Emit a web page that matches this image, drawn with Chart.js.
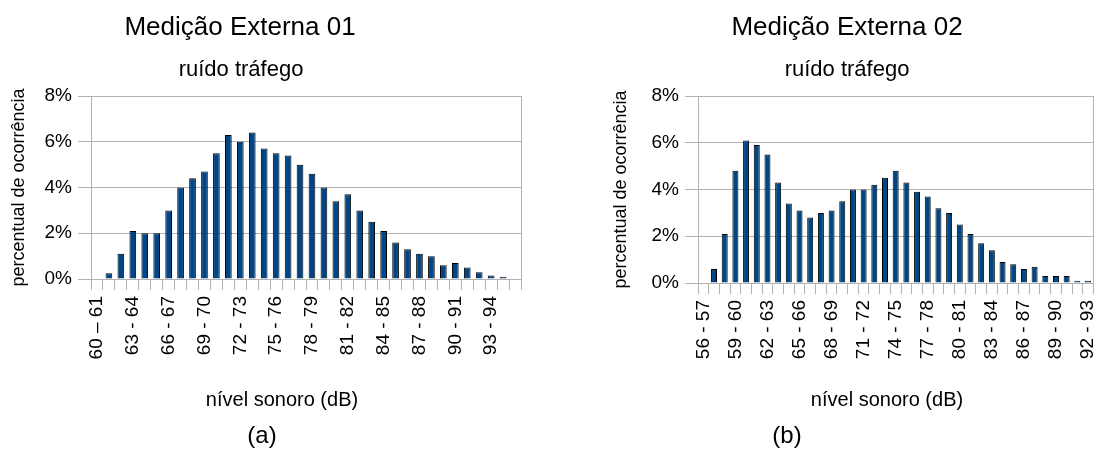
<!DOCTYPE html>
<html>
<head>
<meta charset="utf-8">
<script src="https://cdn.jsdelivr.net/npm/chart.js@4.4.0/dist/chart.umd.min.js"></script>
<style>
  body { margin: 0; background: #fff; }
  #wrap { position: relative; width: 1117px; height: 449px; }
  #c1 { position: absolute; left: 0; top: 0; }
  #c2 { position: absolute; left: 558px; top: 0; }
</style>
</head>
<body>
<div id="wrap">
  <canvas id="c1" width="558" height="449"></canvas>
  <canvas id="c2" width="559" height="449"></canvas>
</div>
<script>
// medição 01 - categorias e percentuais
const cats1 = ['60 – 61', '61 - 62', '62 - 63', '63 - 64', '64 - 65', '65 - 66', '66 - 67', '67 - 68', '68 - 69',
  '69 - 70', '70 - 71', '71 - 72', '72 - 73', '73 - 74', '74 - 75', '75 - 76', '76 - 77', '77 - 78',
  '78 - 79', '79 - 80', '80 - 81', '81 - 82', '82 - 83', '83 - 84', '84 - 85', '85 - 86', '86 - 87',
  '87 - 88', '88 - 89', '89 - 90', '90 - 91', '91 - 92', '92 - 93', '93 - 94', '94 - 95', '95 - 96'];
const vals1 = [0, 0.25, 1.1, 2.1, 2.0, 2.0, 3.0, 4.0, 4.4, 4.7, 5.5, 6.3, 6.0, 6.4, 5.7, 5.5, 5.4, 5.0,
  4.6, 4.0, 3.4, 3.7, 3.0, 2.5, 2.1, 1.6, 1.3, 1.1, 1.0, 0.6, 0.7, 0.5, 0.3, 0.15, 0.1, 0];

// medição 02
const cats2 = ['56 - 57', '57 - 58', '58 - 59', '59 - 60', '60 - 61', '61 - 62', '62 - 63', '63 - 64', '64 - 65',
  '65 - 66', '66 - 67', '67 - 68', '68 - 69', '69 - 70', '70 - 71', '71 - 72', '72 - 73', '73 - 74',
  '74 - 75', '75 - 76', '76 - 77', '77 - 78', '78 - 79', '79 - 80', '80 - 81', '81 - 82', '82 - 83',
  '83 - 84', '84 - 85', '85 - 86', '86 - 87', '87 - 88', '88 - 89', '89 - 90', '90 - 91', '91 - 92', '92 - 93'];
const vals2 = [0, 0.6, 2.1, 4.8, 6.1, 5.9, 5.5, 4.3, 3.4, 3.1, 2.8, 3.0, 3.1, 3.5, 4.0, 4.0, 4.2, 4.5,
  4.8, 4.3, 3.9, 3.7, 3.2, 3.0, 2.5, 2.1, 1.7, 1.4, 0.9, 0.8, 0.6, 0.7, 0.3, 0.3, 0.3, 0.1, 0.1];

const yTicks = [0, 2, 4, 6, 8];

const FONT = 'Liberation Sans';
const GRID = '#b3b3b3';

// desenha titulos / legenda de eixo x / (a) (b)
const textPlugin = {
  id: 'texts',
  afterDraw(chart, args, opts) {
    const ctx = chart.ctx;
    ctx.save();
    ctx.fillStyle = '#000';
    ctx.textAlign = 'center';
    ctx.textBaseline = 'alphabetic';
    opts.items.forEach(t => {
      ctx.font = t.size + 'px "' + FONT + '"';
      ctx.fillText(t.text, t.x, t.y);
    });
    ctx.restore();
  }
};

function makeChart(id, cats, vals, pad, texts, titlePad) {
  return new Chart(document.getElementById(id), {
    type: 'bar',
    data: {
      labels: cats,
      datasets: [{
        data: vals,
        backgroundColor: '#004586',
        borderColor: '#000',
        borderWidth: 1,
        borderSkipped: 'bottom',
        barPercentage: 0.56,
        categoryPercentage: 1.0
      }]
    },
    options: {
      responsive: false,
      animation: false,
      devicePixelRatio: 1,
      layout: { padding: pad },
      plugins: {
        legend: { display: false },
        tooltip: { enabled: false },
        title: { display: false },
        texts: { items: texts }
      },
      scales: {
        x: {
          afterFit: s => { s.height = 100; },
          grid: {
            offset: true,
            color: c => (c.type !== 'tick' || c.index === 0) ? GRID : 'rgba(0,0,0,0)',
            tickColor: GRID,
            tickLength: 11,
            lineWidth: 1
          },
          border: { display: false },
          ticks: {
            autoSkip: false,
            minRotation: 90,
            maxRotation: 90,
            padding: 6,
            color: '#000',
            font: { family: FONT, size: 19 },
            callback: (v, i) => i % 3 === 0 ? cats[i] : ''
          }
        },
        y: {
          min: 0,
          max: 8,
          afterFit: s => { s.width = 91; },
          afterBuildTicks: s => { s.ticks = yTicks.map(v => ({ value: v })); },
          grid: { color: GRID, tickColor: GRID, tickLength: 13 },
          border: { color: GRID },
          ticks: {
            padding: 6,
            color: '#000',
            font: { family: FONT, size: 19 },
            callback: v => v + '%'
          },
          title: {
            display: true,
            text: 'percentual de ocorrência',
            color: '#000',
            font: { family: FONT, size: 18 },
            padding: { top: titlePad, bottom: 0 }
          }
        }
      }
    },
    plugins: [textPlugin]
  });
}

makeChart('c1', cats1, vals1,
  { left: 0, right: 37, top: 96, bottom: 70 },
  [
    { text: 'Medição Externa 01', x: 240, y: 35, size: 26 },
    { text: 'ruído tráfego', x: 241, y: 76, size: 22 },
    { text: 'nível sonoro (dB)', x: 282, y: 406, size: 20 },
    { text: '(a)', x: 262, y: 443, size: 24 }
  ], 8);

makeChart('c2', cats2, vals2,
  { left: 49, right: 12, top: 96, bottom: 66 },
  [
    { text: 'Medição Externa 02', x: 289, y: 35, size: 26 },
    { text: 'ruído tráfego', x: 289, y: 76, size: 22 },
    { text: 'nível sonoro (dB)', x: 329, y: 406, size: 20 },
    { text: '(b)', x: 229, y: 443, size: 24 }
  ], 3);
</script>
</body>
</html>
